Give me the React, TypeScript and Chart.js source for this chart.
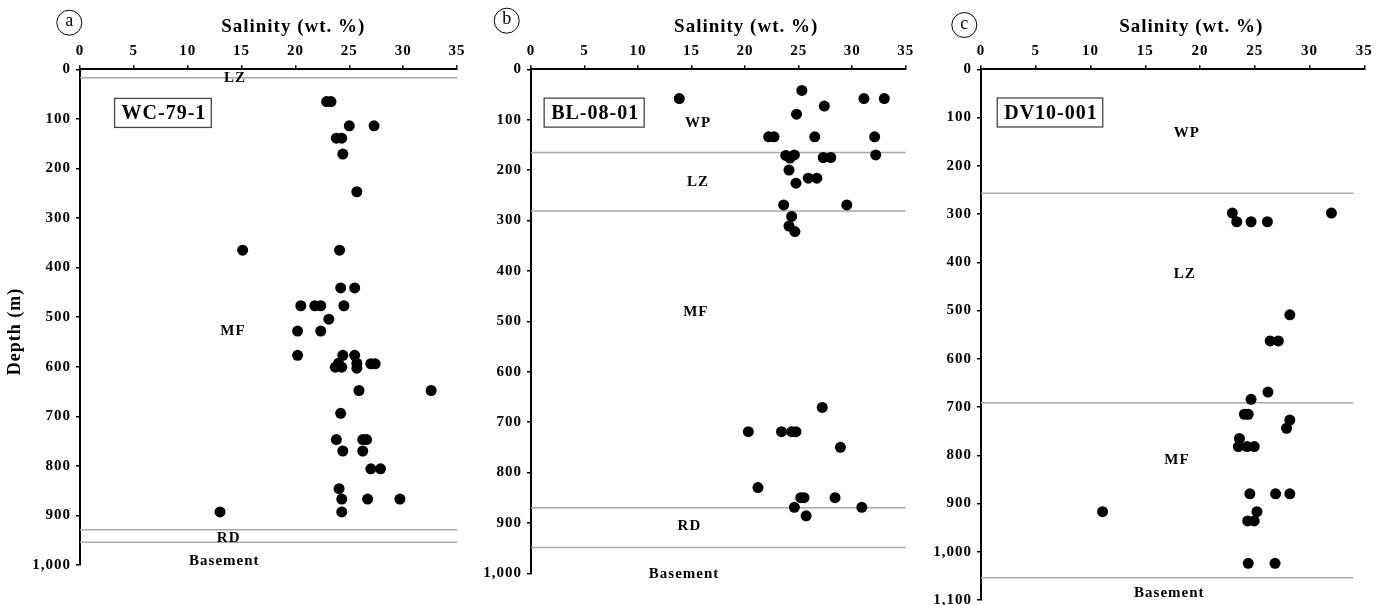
import React, { useEffect, useRef } from 'react';
import { Chart, registerables } from 'chart.js';

Chart.register(...registerables);

const FONT = "'Liberation Serif', 'Times New Roman', serif";

// ---------- shared axis ticks ----------
const salinityTicks = [0, 5, 10, 15, 20, 25, 30, 35];
const depthMaxAB = 1000;
const depthMaxC = 1100;

// ---------- Panel a : WC-79-1 ----------
const wcSalinity = [22.9, 23.3, 25.0, 27.3, 23.8, 24.3, 24.4, 25.7, 15.1, 24.1, 24.2, 25.5, 20.5, 21.8, 22.35, 24.5, 23.1, 20.2, 22.35, 20.2, 24.4, 25.5, 23.7, 24.3, 24.0, 25.7, 25.7, 27.0, 27.4, 25.9, 32.6, 24.2, 23.8, 26.25, 26.6, 24.4, 26.25, 27.0, 27.9, 24.05, 24.3, 26.7, 29.7, 24.3, 13.0];
const wcDepth = [65, 65, 114, 114, 139, 139, 171, 247, 365, 365, 441, 441, 477, 477, 477, 477, 504, 528, 528, 577, 577, 577, 601, 601, 593, 593, 603, 594, 594, 648, 648, 694, 747, 747, 747, 770, 770, 806, 806, 846, 867, 867, 867, 893, 893];
const wcBoundaries = [17, 929, 954];
const wcZoneNames = ['LZ', 'MF', 'RD', 'Basement'];
const wcZoneX = [14.4, 14.2, 13.8, 13.4];
const wcZoneY = [17, 529, 945, 993];

// ---------- Panel b : BL-08-01 ----------
const blSalinity = [13.85, 25.3, 27.4, 24.8, 31.1, 33.0, 22.2, 22.7, 26.5, 32.1, 32.2, 23.8, 24.2, 24.6, 27.3, 28.0, 24.1, 25.9, 26.7, 24.75, 23.6, 29.5, 24.35, 24.1, 24.65, 27.2, 20.3, 23.4, 24.35, 24.75, 28.9, 21.2, 25.2, 25.5, 28.4, 24.6, 30.9, 25.7];
const blDepth = [58, 42, 73, 89, 58, 58, 134, 134, 134, 134, 170, 171, 176, 170, 175, 175, 200, 216, 216, 226, 269, 269, 292, 311, 322, 671, 719, 719, 719, 719, 750, 830, 850, 850, 850, 869, 869, 886];
const blBoundaries = [165, 281, 870, 949];
const blZoneNames = ['WP', 'LZ', 'MF', 'RD', 'Basement'];
const blZoneX = [15.6, 15.6, 15.4, 14.8, 14.3];
const blZoneY = [106, 223, 481, 906, 1001];

// ---------- Panel c : DV10-001 ----------
const dvSalinity = [22.95, 23.35, 24.66, 26.15, 32.0, 28.2, 26.4, 27.15, 26.2, 24.66, 24.05, 24.4, 28.2, 27.9, 23.6, 23.5, 24.3, 24.95, 24.55, 26.9, 28.2, 11.1, 25.2, 24.35, 24.95, 24.4, 26.85];
const dvDepth = [298, 316, 316, 316, 298, 509, 563, 563, 669, 684, 715, 715, 727, 744, 765, 782, 782, 782, 880, 880, 880, 917, 917, 936, 936, 1024, 1024];
const dvBoundaries = [257, 691, 1054];
const dvZoneNames = ['WP', 'LZ', 'MF', 'Basement'];
const dvZoneX = [18.8, 18.6, 17.9, 17.2];
const dvZoneY = [133, 424, 810, 1086];

type Panel = {
  letter: string;
  sample: string;
  sal: number[];
  depth: number[];
  bounds: number[];
  boundEnd: number;
  zoneNames: string[];
  zoneX: number[];
  zoneY: number[];
  yMax: number;
  area: { left: number; right: number; top: number; bottom: number };
  boxX: number;
  boxY: number;
  titleX: number;
  circle: { x: number; y: number };
  depthTitle: boolean;
};

const panels: Panel[] = [
  {
    letter: 'a', sample: 'WC-79-1', sal: wcSalinity, depth: wcDepth, bounds: wcBoundaries, boundEnd: 35,
    zoneNames: wcZoneNames, zoneX: wcZoneX, zoneY: wcZoneY, yMax: depthMaxAB,
    area: { left: 80, right: 457, top: 69.3, bottom: 565 },
    boxX: 7.7, boxY: 88, titleX: 19.8, circle: { x: 69.3, y: 22.7 }, depthTitle: true,
  },
  {
    letter: 'b', sample: 'BL-08-01', sal: blSalinity, depth: blDepth, bounds: blBoundaries, boundEnd: 35,
    zoneNames: blZoneNames, zoneX: blZoneX, zoneY: blZoneY, yMax: depthMaxAB,
    area: { left: 531, right: 905.7, top: 69.3, bottom: 573.3 },
    boxX: 5.9, boxY: 86, titleX: 20.1, circle: { x: 506.7, y: 20.7 }, depthTitle: false,
  },
  {
    letter: 'c', sample: 'DV10-001', sal: dvSalinity, depth: dvDepth, bounds: dvBoundaries, boundEnd: 34,
    zoneNames: dvZoneNames, zoneX: dvZoneX, zoneY: dvZoneY, yMax: depthMaxC,
    area: { left: 981, right: 1364.3, top: 69.3, bottom: 600 },
    boxX: 6.3, boxY: 89.5, titleX: 19.2, circle: { x: 964.3, y: 25 }, depthTitle: false,
  },
];

const CW = 1385;
const CH = 640;
const YW = 60;
const XH = 40;

function buildChart(canvas: HTMLCanvasElement, p: Panel) {
  const datasets: any[] = [
    {
      data: p.sal.map((s, i) => ({ x: s, y: p.depth[i] })),
      pointRadius: 5.5,
      pointBackgroundColor: '#000',
      pointBorderColor: '#000',
      pointBorderWidth: 0,
      showLine: false,
    },
  ];
  p.bounds.forEach((d) => {
    datasets.push({
      data: [{ x: 0, y: d }, { x: p.boundEnd, y: d }],
      showLine: true,
      borderColor: '#a8a8a8',
      borderWidth: 1.5,
      pointRadius: 0,
    });
  });

  const overlay = {
    id: 'overlay' + p.letter,
    beforeDraw(chart: any) {
      chart.ctx.letterSpacing = '1px';
    },
    afterDraw(chart: any) {
      const ctx = chart.ctx as CanvasRenderingContext2D;
      const xs = chart.scales.x;
      const ys = chart.scales.y;
      ctx.save();
      (ctx as any).letterSpacing = '1px';
      ctx.fillStyle = '#000';
      ctx.textAlign = 'center';
      ctx.textBaseline = 'middle';
      // zone labels
      ctx.font = `bold 15px ${FONT}`;
      p.zoneNames.forEach((n, i) => {
        ctx.fillText(n, xs.getPixelForValue(p.zoneX[i]), ys.getPixelForValue(p.zoneY[i]));
      });
      // sample box
      ctx.font = `bold 20px ${FONT}`;
      const bx = xs.getPixelForValue(p.boxX);
      const by = ys.getPixelForValue(p.boxY);
      const w = ctx.measureText(p.sample).width + 12;
      const h = 29;
      ctx.fillStyle = '#fff';
      ctx.fillRect(bx - w / 2, by - h / 2, w, h);
      ctx.strokeStyle = '#444';
      ctx.lineWidth = 1.3;
      ctx.strokeRect(bx - w / 2, by - h / 2, w, h);
      ctx.fillStyle = '#000';
      ctx.fillText(p.sample, bx + 1, by + 1);
      // axis title
      ctx.font = `bold 19px ${FONT}`;
      ctx.fillText('Salinity (wt. %)', xs.getPixelForValue(p.titleX), 27);
      // circled letter
      ctx.beginPath();
      ctx.arc(p.circle.x, p.circle.y, 12.5, 0, Math.PI * 2);
      ctx.strokeStyle = '#000';
      ctx.lineWidth = 1;
      ctx.stroke();
      (ctx as any).letterSpacing = '0px';
      ctx.font = `18px ${FONT}`;
      ctx.fillText(p.letter, p.circle.x, p.circle.y - 1);
      // depth title
      if (p.depthTitle) {
        (ctx as any).letterSpacing = '1px';
        ctx.font = `bold 18px ${FONT}`;
        ctx.translate(15, 331.5);
        ctx.rotate(-Math.PI / 2);
        ctx.fillText('Depth (m)', 0, 0);
      }
      ctx.restore();
    },
  };

  return new Chart(canvas, {
    type: 'scatter',
    data: { datasets },
    options: {
      animation: false,
      responsive: false,
      devicePixelRatio: 1,
      events: [],
      layout: {
        padding: {
          left: p.area.left - YW,
          right: CW - p.area.right,
          top: p.area.top - XH,
          bottom: CH - p.area.bottom,
        },
      },
      plugins: { legend: { display: false }, tooltip: { enabled: false } },
      scales: {
        x: {
          type: 'linear',
          position: 'top',
          min: 0,
          max: 35,
          afterBuildTicks(scale: any) {
            scale.ticks = salinityTicks.map((v) => ({ value: v }));
          },
          afterFit(scale: any) {
            scale.height = XH;
          },
          border: { display: true, color: '#000', width: 2 },
          grid: { display: true, drawOnChartArea: false, drawTicks: true, tickLength: 4, color: '#000', lineWidth: 1.5 },
          ticks: {
            autoSkip: false,
            maxRotation: 0,
            padding: 5,
            color: '#000',
            font: { family: FONT, size: 15, weight: 'bold' },
            callback: (v: any) => String(v),
          },
        },
        y: {
          type: 'linear',
          position: 'left',
          reverse: true,
          min: 0,
          max: p.yMax,
          afterFit(scale: any) {
            scale.width = YW;
          },
          border: { display: true, color: '#000', width: 2 },
          grid: { display: true, drawOnChartArea: false, drawTicks: true, tickLength: 4, color: '#000', lineWidth: 1.5 },
          ticks: {
            stepSize: 100,
            autoSkip: false,
            padding: 5,
            color: '#000',
            font: { family: FONT, size: 15, weight: 'bold' },
            callback: (v: any) => Number(v).toLocaleString('en-US'),
          },
        },
      },
    } as any,
    plugins: [overlay],
  });
}

function PanelCanvas({ p }: { p: Panel }) {
  const ref = useRef<HTMLCanvasElement | null>(null);
  useEffect(() => {
    if (!ref.current) return;
    const chart = buildChart(ref.current, p);
    return () => chart.destroy();
  }, [p]);
  return (
    <canvas
      ref={ref}
      width={CW}
      height={CH}
      style={{ position: 'absolute', left: 0, top: 0, width: CW, height: CH }}
    />
  );
}

export default function App() {
  useEffect(() => {
    document.body.style.margin = '0';
    document.body.style.background = '#fff';
  }, []);
  return (
    <div style={{ position: 'relative', width: CW, height: 605, overflow: 'hidden', background: '#fff' }}>
      {panels.map((p) => (
        <PanelCanvas key={p.letter} p={p} />
      ))}
    </div>
  );
}
